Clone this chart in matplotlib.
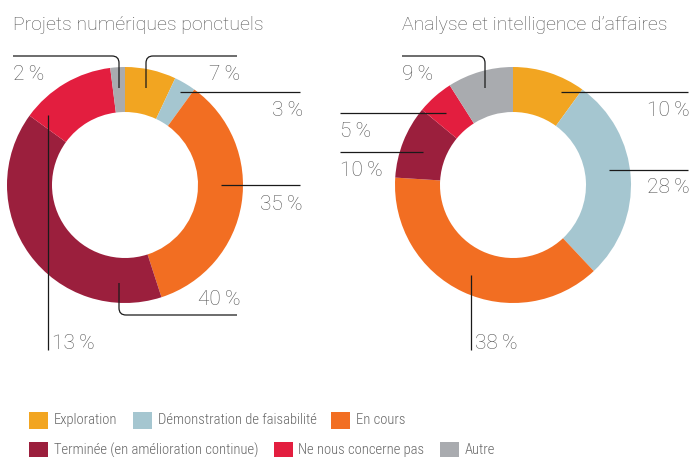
import matplotlib.pyplot as plt
from matplotlib.path import Path
from matplotlib.patches import PathPatch, Rectangle

W, H = 693, 457

categories = ["Exploration", "Démonstration de faisabilité", "En cours",
              "Terminée (en amélioration continue)", "Ne nous concerne pas", "Autre"]
colors = ["#F2A521", "#A5C6D0", "#F26E22", "#9B1F3D", "#E31E3F", "#A9ABAF"]

titles = ["Projets numériques ponctuels", "Analyse et intelligence d\u2019affaires"]
ponctuels = [7, 3, 35, 40, 13, 2]
analyse = [10, 28, 38, 10, 5, 9]

FONT = ["Roboto", "DejaVu Sans"]
LEG_FONT = ["Roboto Condensed", "Liberation Sans Narrow", "Roboto", "DejaVu Sans"]
TXT = "#555555"


def Y(y):
    # pixel rows (top = 0) -> data y
    return H - y


def leader(ax, pts, r=7):
    pts = [(x, Y(y)) for x, y in pts]
    verts = [pts[0]]
    codes = [Path.MOVETO]
    for i in range(1, len(pts) - 1):
        (x0, y0), (x1, y1), (x2, y2) = pts[i - 1], pts[i], pts[i + 1]
        d1 = ((x1 - x0) ** 2 + (y1 - y0) ** 2) ** 0.5
        d2 = ((x2 - x1) ** 2 + (y2 - y1) ** 2) ** 0.5
        a = (x1 - (x1 - x0) * r / d1, y1 - (y1 - y0) * r / d1)
        b = (x1 + (x2 - x1) * r / d2, y1 + (y2 - y1) * r / d2)
        verts += [a, (x1, y1), b]
        codes += [Path.LINETO, Path.CURVE3, Path.CURVE3]
    verts.append(pts[-1])
    codes.append(Path.LINETO)
    ax.add_patch(PathPatch(Path(verts, codes), fill=False, lw=0.9,
                           edgecolor="#1a1a1a", zorder=5))


fig = plt.figure(figsize=(W / 100, H / 100), dpi=100)
ax = fig.add_axes([0, 0, 1, 1])

# donuts
for vals, cx in [(ponctuels, 125), (analyse, 513)]:
    ax.pie(vals, colors=colors, radius=118, center=(cx, Y(185)), startangle=90,
           counterclock=False, wedgeprops=dict(width=45, linewidth=0))

ax.set_xlim(0, W)
ax.set_ylim(0, H)
ax.set_aspect("equal")
ax.axis("off")

# titles
ax.text(13, Y(30), titles[0], fontsize=14, color=TXT, family=FONT,
        fontweight="light", va="baseline", ha="left")
ax.text(402, Y(30), titles[1], fontsize=14, color=TXT, family=FONT,
        fontweight="light", va="baseline", ha="left")

# leader lines + labels : (value, line points, text x, text baseline, align)
labels = [
    (ponctuels[0], [(146, 88), (146, 56), (237, 56)], 240, 80, "right"),
    (ponctuels[1], [(180, 92), (300, 92)], 303, 116, "right"),
    (ponctuels[2], [(221, 185), (300, 185)], 303, 210, "right"),
    (ponctuels[3], [(119, 283), (119, 315), (237, 315)], 240, 305, "right"),
    (ponctuels[4], [(48, 115), (48, 350)], 52, 349, "left"),
    (ponctuels[5], [(119, 88), (119, 56), (13, 56)], 13, 80, "left"),
    (analyse[0], [(561, 92), (688, 92)], 690, 116, "right"),
    (analyse[1], [(609, 170), (688, 170)], 690, 193, "right"),
    (analyse[2], [(471, 275), (471, 350)], 475, 349, "left"),
    (analyse[3], [(423, 152), (340, 152)], 340, 176, "left"),
    (analyse[4], [(446, 113), (340, 113)], 340, 137, "left"),
    (analyse[5], [(485, 88), (485, 56), (402, 56)], 402, 80, "left"),
]
for v, pts, tx, ty, ha in labels:
    leader(ax, pts)
    ax.text(tx, Y(ty), f"{v}\u2009%", fontsize=15, color=TXT, family=FONT,
            fontweight="light", ha=ha, va="baseline")

# legend (two flowing rows)
fig.canvas.draw()
rend = fig.canvas.get_renderer()
rows = [(categories[:3], colors[:3], 420), (categories[3:], colors[3:], 450)]
for cats, cols, yc in rows:
    x = 29
    for c, col in zip(cats, cols):
        ax.add_patch(Rectangle((x, Y(yc + 8.5)), 19, 17, facecolor=col,
                               edgecolor="none"))
        t = ax.text(x + 25, Y(yc), c, fontsize=10.5, color="#666666",
                    family=LEG_FONT, fontweight="light", ha="left", va="center")
        bb = t.get_window_extent(renderer=rend)
        x = bb.x1 + 15

fig.savefig("out.png", dpi=100)
